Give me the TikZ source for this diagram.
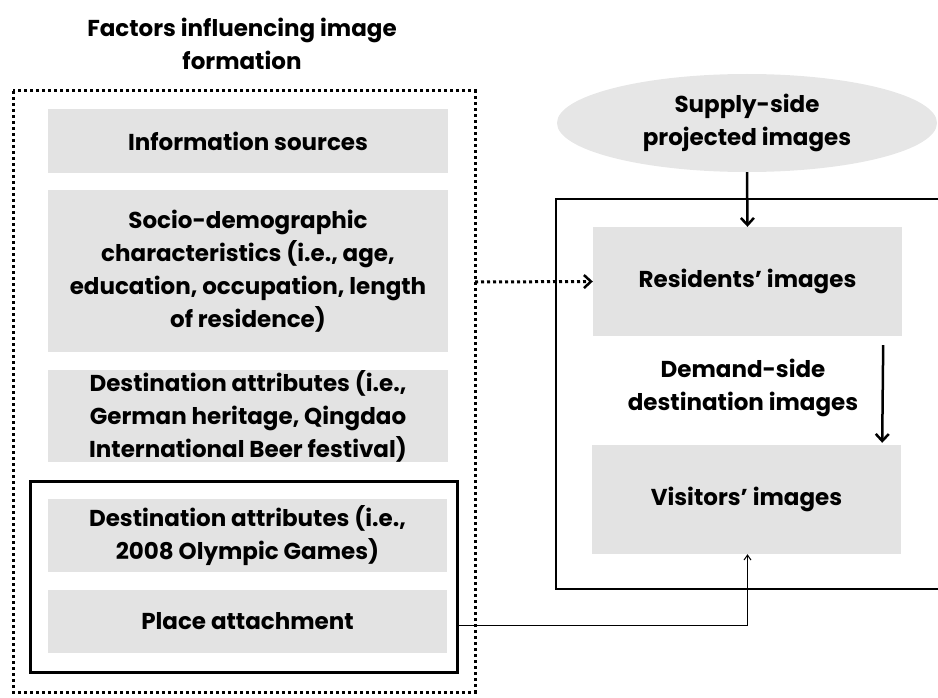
\documentclass[tikz,border=0pt]{standalone}
\usepackage{fontspec}
\setmainfont{Poppins}
\usetikzlibrary{arrows.meta,calc,shapes.geometric}
\definecolor{boxgray}{HTML}{E3E3E3}
\definecolor{ellgray}{HTML}{E6E6E6}
\begin{document}
\begin{tikzpicture}[x=1pt,y=-1pt,
  txt/.style={font=\fontsize{23}{33}\selectfont\bfseries, align=center, inner sep=0pt},
  graybox/.style={txt, fill=boxgray, minimum width=400pt},
  rbox/.style={txt, fill=boxgray, minimum width=309pt, minimum height=109pt},
  dotline/.style={line width=3pt, dash pattern=on 3pt off 3pt},
  barb/.style={-{Straight Barb[length=7pt,width=13pt,line width=2.5pt]}}
]
\useasboundingbox (0,0) rectangle (938,698);
% title
\node[txt] (title) at (242,44) {Factors influencing image\\formation};
% dotted outer box
\draw[dotline] (13,91) rectangle (475,692);
\coordinate (fright) at (475,282);
% left boxes
\node[graybox, minimum height=64pt] (info) at (248,141) {Information sources};
\node[graybox, minimum height=162pt] (socio) at (248,271) {Socio-demographic\\characteristics (i.e., age,\\education, occupation, length\\of residence)};
\node[graybox, minimum height=92pt] (dest1) at (248,416) {Destination attributes (i.e.,\\German heritage, Qingdao\\International Beer festival)};
\node[graybox, minimum width=399pt, minimum height=73pt] (dest2) at (247.5,535.5) {Destination attributes (i.e.,\\2008 Olympic Games)};
\node[graybox, minimum width=399pt, minimum height=63pt] (place) at (247.5,621.5) {Place attachment};
% solid box around last two
\node[draw, line width=3pt, minimum width=427pt, minimum height=191pt, inner sep=0pt] (solid) at (243.5,576.5) {};
% supply ellipse
\node[ellipse, fill=ellgray, minimum width=380pt, minimum height=98pt, inner sep=0pt, txt] (supply) at (747,123) {Supply-side\\projected images};
% right box
\draw[line width=2pt] (945,199) -- (556,199) -- (556,589) -- (945,589);
\node[rbox] (res) at (747.5,281.5) {Residents' images};
\node[rbox] (vis) at (746.5,499.5) {Visitors' images};
\node[txt] (demand) at (743,388) {Demand-side\\destination images};
% connectors
\draw[line width=2.5pt, barb] (supply.south) -- (res.north);
\draw[dotline, barb] (fright) -- (res.west);
\draw[line width=2.5pt, barb] ($(res.south east)+(-19,9)$) -- ($(vis.north east)+(-19,-2)$);
\draw[line width=1pt, -{Straight Barb[length=5pt,width=7pt,line width=1pt]}] (solid.east |- 0,625) -| ($(vis.south)+(1,0)$);
\end{tikzpicture}
\end{document}
